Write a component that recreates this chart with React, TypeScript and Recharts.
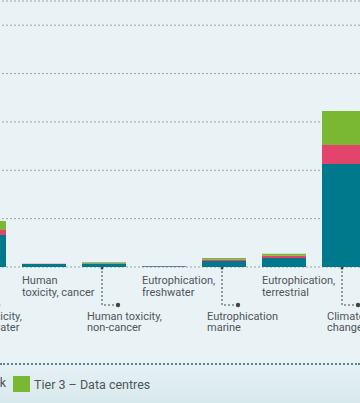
import { BarChart, Bar, XAxis, YAxis, CartesianGrid } from 'recharts';

const categories = [
  'Ecotoxicity, freshwater',
  'Human toxicity, cancer',
  'Human toxicity, non-cancer',
  'Eutrophication, freshwater',
  'Eutrophication marine',
  'Eutrophication, terrestrial',
  'Climate change',
];

const labelLines = [
  ['Ecotoxicity,', 'freshwater'],
  ['Human', 'toxicity, cancer'],
  ['Human toxicity,', 'non-cancer'],
  ['Eutrophication,', 'freshwater'],
  ['Eutrophication', 'marine'],
  ['Eutrophication,', 'terrestrial'],
  ['Climate', 'change'],
];

const tier1 = [13.2, 1.2, 1.45, 0.35, 2.5, 3.7, 42.6];
const tier2 = [2.1, 0.1, 0.05, 0.02, 0.6, 1.0, 7.9];
const tier3 = [3.7, 0.05, 0.5, 0.02, 0.6, 0.8, 14.0];

const yTicks = [0, 20, 40, 60, 80, 100];

const data = categories.map((name, i) => ({
  name,
  tier1: tier1[i],
  tier2: tier2[i],
  tier3: tier3[i],
}));

const TEAL = '#00798c';
const PINK = '#e3446b';
const GREEN = '#7ab833';
const TEXT = '#4f5559';
const FONT = 'Roboto, sans-serif';

function CategoryTick(props: any) {
  const { x, y, index } = props;
  const lines = labelLines[index] || [];
  const low = index % 2 === 0;
  if (!low) {
    return (
      <g>
        <text x={x - 22} y={y + 17} fill={TEXT} fontSize={11} fontFamily={FONT}>
          <tspan x={x - 22}>{lines[0]}</tspan>
          <tspan x={x - 22} dy={11.5}>{lines[1]}</tspan>
        </text>
      </g>
    );
  }
  const lx = x - 2;
  return (
    <g>
      <circle cx={lx} cy={y + 1} r={1.5} fill="#444" />
      <path
        d={`M${lx},${y} L${lx},${y + 38} L${x + 14},${y + 38}`}
        fill="none"
        stroke="#444"
        strokeWidth={1}
        strokeDasharray="2 2"
      />
      <circle cx={x + 14} cy={y + 38} r={2.2} fill="#444" />
      <text x={x - 17} y={y + 53} fill={TEXT} fontSize={11} fontFamily={FONT}>
        <tspan x={x - 17}>{lines[0]}</tspan>
        <tspan x={x - 17} dy={10.5}>{lines[1]}</tspan>
      </text>
    </g>
  );
}

export default function App() {
  return (
    <div
      style={{
        position: 'absolute',
        left: 0,
        top: 0,
        width: 360,
        height: 403,
        overflow: 'hidden',
        background: 'linear-gradient(to bottom, #e9f3f6 0%, #e9f3f6 88%, #d8e9ed 100%)',
      }}
    >
      <div style={{ position: 'absolute', left: -100, top: 0 }}>
        <BarChart
          width={500}
          height={403}
          data={data}
          margin={{ top: 1, right: 26, left: 54, bottom: 36 }}
          barSize={44}
        >
          <CartesianGrid
            vertical={false}
            stroke="#9aa4a8"
            strokeDasharray="2 2"
          />
          <YAxis hide domain={[0, 110]} ticks={yTicks} />
          <XAxis
            dataKey="name"
            axisLine={false}
            tickLine={false}
            tickSize={0}
            tickMargin={0}
            height={100}
            interval={0}
            tick={CategoryTick}
          />
          <Bar dataKey="tier1" stackId="a" fill={TEAL} isAnimationActive={false} />
          <Bar dataKey="tier2" stackId="a" fill={PINK} isAnimationActive={false} />
          <Bar dataKey="tier3" stackId="a" fill={GREEN} isAnimationActive={false} />
        </BarChart>
      </div>
      <div
        style={{
          position: 'absolute',
          left: 0,
          top: 363,
          width: 360,
          borderTop: '2px dotted #5a8593',
        }}
      />
      <div
        style={{
          position: 'absolute',
          top: 376,
          left: 0,
          width: 360,
          height: 16,
          display: 'flex',
          alignItems: 'center',
          fontFamily: FONT,
          fontSize: 12.5,
          color: TEXT,
          whiteSpace: 'nowrap',
        }}
      >
        <span style={{ position: 'absolute', right: 354, top: -1, whiteSpace: 'nowrap' }}>
          Tier 2 – Network
        </span>
        <span
          style={{
            display: 'inline-block',
            width: 17,
            height: 16,
            background: GREEN,
            marginLeft: 13,
            marginRight: 4,
          }}
        />
        <span>Tier 3 – Data centres</span>
      </div>
    </div>
  );
}
